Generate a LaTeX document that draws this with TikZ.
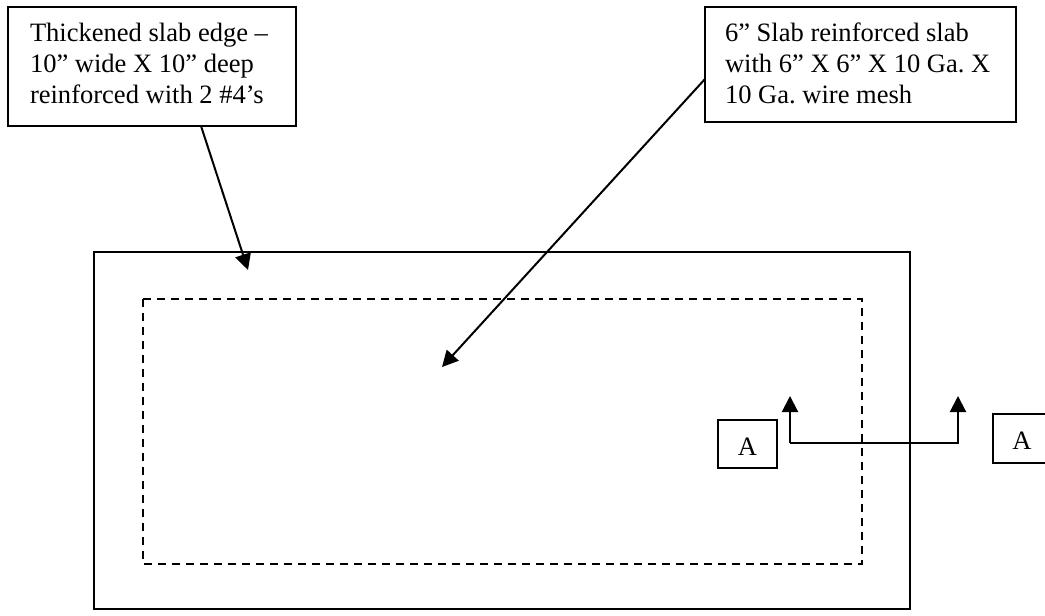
\documentclass[tikz,border=0pt]{standalone}
\usepackage{fontspec}
\setmainfont{Liberation Serif}
\usetikzlibrary{arrows.meta}
\newcommand\notelines[2]{\makebox[#1][l]{\begin{tabular}{@{}l@{}}#2\end{tabular}}}
\tikzset{
  px/.style={x=0.75pt,y=-0.75pt},
  note/.style={draw=black,line width=1.5pt,anchor=center,inner sep=0pt,font=\fontsize{19.9}{23.25}\selectfont\frenchspacing},
  marker/.style={draw=black,line width=1.5pt,anchor=center,inner sep=0pt,text height=16.5pt,text depth=0pt,font=\fontsize{19.9}{23.25}\selectfont},
  plan/.style={draw=black,line width=1.5pt},
  leader/.style={draw=black,line width=1.5pt,-{Triangle[length=12pt,width=12pt]}},
}
\begin{document}
\begin{tikzpicture}[px]
\useasboundingbox (0,0) rectangle (1045,616);
\fill[white] (0,0) rectangle (1045,616);
\node[note,minimum width=216pt,minimum height=89.25pt] (edge) at (152,66.5)
  {\notelines{183pt}{Thickened slab edge –\\10” wide X 10” deep\\reinforced with 2 \#4’s}};
\node[note,minimum width=233.25pt,minimum height=86.25pt] (mesh) at (860.5,64.5)
  {\notelines{203.25pt}{\rule{0pt}{19.3pt}6” Slab reinforced slab\\with 6” X 6” X 10 Ga. X\\10 Ga. wire mesh}};
\node[marker,minimum width=44.25pt,minimum height=36pt] (a1) at (747.5,444) {A};
\node[marker,minimum width=43.5pt,minimum height=36.75pt] (a2) at (1022,438.5) {A};
\draw[plan] (94,252) rectangle (910,609);
\draw[plan,dash pattern=on 6pt off 4.5pt] (143,299) rectangle (862,564);
\coordinate (edgeFrom) at (201,126);
\coordinate (edgeTo) at (248,270);
\coordinate (meshFrom) at (705,79);
\coordinate (meshTo) at (442,367);
\coordinate (secL) at (790,396);
\coordinate (secLb) at (790,443);
\coordinate (secRb) at (958,443);
\coordinate (secR) at (958,396);
\draw[leader] (edgeFrom) -- (edgeTo);
\draw[leader] (meshFrom) -- (meshTo);
\draw[leader] (secLb) -- (secL);
\draw[leader] (secLb) -- (secRb) -- (secR);
\end{tikzpicture}
\end{document}
